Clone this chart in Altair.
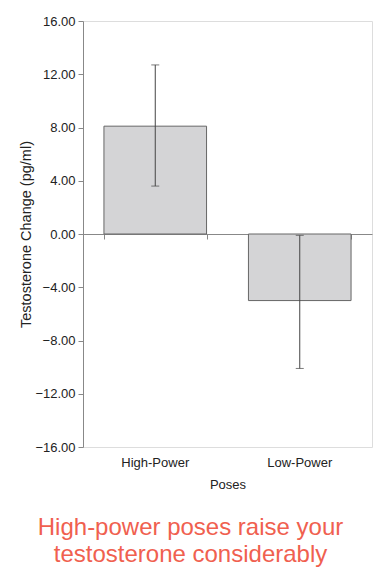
import altair as alt
import pandas as pd

poses = ["High-Power", "Low-Power"]
means = [8.1, -5.0]
err_low = [3.6, -10.1]
err_high = [12.7, -0.1]
y_ticks = [-16, -12, -8, -4, 0, 4, 8, 12, 16]

df = pd.DataFrame({"pose": poses, "mean": means, "lo": err_low, "hi": err_high})

FONT = "Liberation Sans"
xscale = alt.Scale(paddingInner=0.29, paddingOuter=0.145)
yscale = alt.Scale(domain=[-16, 16], nice=False, zero=False)

base = alt.Chart(df)

bars = base.mark_bar(fill="#d4d4d6", stroke="#666666", strokeWidth=1).encode(
    x=alt.X("pose:N", scale=xscale, sort=poses,
            axis=alt.Axis(orient="bottom", domain=False, ticks=False, labelAngle=0,
                          labelPadding=9, title="Poses", titlePadding=9,
                          labelFont=FONT, titleFont=FONT, labelFontSize=13, titleFontSize=13,
                          labelFontWeight="normal", titleFontWeight="normal",
                          labelColor="#222", titleColor="#222")),
    y=alt.Y("mean:Q", scale=yscale,
            axis=alt.Axis(values=y_ticks, format=".2f", title="Testosterone Change (pg/ml)",
                          grid=False, domainColor="#888", tickColor="#888", tickSize=5,
                          labelFont=FONT, titleFont=FONT, labelFontSize=13, titleFontSize=14.5,
                          titleFontWeight="normal", labelColor="#222", titleColor="#222",
                          labelPadding=3, titlePadding=1)),
)

rules = base.mark_rule(color="#444", strokeWidth=1).encode(
    x=alt.X("pose:N", scale=xscale, sort=poses,
            axis=alt.Axis(orient="bottom", offset=-213, labels=False, title=None,
                          domain=True, ticks=True, tickBand="extent", tickSize=5,
                          domainColor="#888", tickColor="#888", grid=False)),
    y=alt.Y("lo:Q", scale=yscale),
    y2="hi:Q",
)

caps_lo = base.mark_tick(color="#444", thickness=1, size=8).encode(
    x=alt.X("pose:N", scale=xscale, sort=poses, axis=None), y=alt.Y("lo:Q", scale=yscale))
caps_hi = base.mark_tick(color="#444", thickness=1, size=8).encode(
    x=alt.X("pose:N", scale=xscale, sort=poses, axis=None), y=alt.Y("hi:Q", scale=yscale))

chart = alt.layer(bars, rules, caps_lo, caps_hi).resolve_scale(x="shared").resolve_axis(
    x="independent"
).properties(
    width=289, height=426,
    autosize=alt.AutoSizeParams(type="none"),
    padding={"left": 75, "top": 13, "right": 5, "bottom": 122},
    title=alt.TitleParams(
        text=["High-power poses raise your", "testosterone considerably"],
        orient="bottom", anchor="middle", dx=-37, offset=25,
        font=FONT, fontSize=24, fontWeight="normal", color="#f0604f", lineHeight=27,
    ),
).configure_view(stroke=None).configure(background="white")

chart.save("out.html", embed_options={"renderer": "svg", "actions": False})
